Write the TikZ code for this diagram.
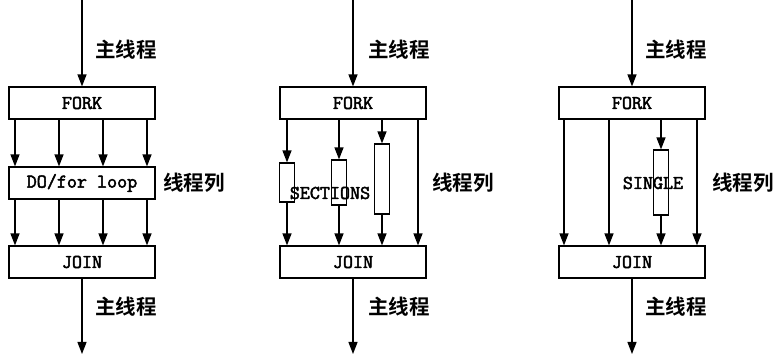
\documentclass[tikz,border=0pt]{standalone}
\usepackage{fontspec}
\newfontfamily\cjk{Noto Sans CJK SC Bold}
\newfontfamily\monob{Latin Modern Mono}[FakeBold=2.5]
\usetikzlibrary{arrows.meta}
\begin{document}
\begin{tikzpicture}[x=1pt,y=-1pt,
  box/.style={draw,line width=1.2pt,inner sep=0pt,font=\monob\fontsize{19.5}{19.5}\selectfont},
  wide/.style={box,minimum width=146,minimum height=32},
  thin/.style={box,minimum width=15},
  arr/.style={line width=1.3pt,-{Triangle[length=12pt,width=9pt]}},
  zh/.style={font=\cjk\fontsize{20.5}{20.5}\selectfont,anchor=west,inner sep=0pt},
  lbl/.style={font=\monob\fontsize{19.5}{19.5}\selectfont,inner sep=0pt}]
\useasboundingbox (0,0) rectangle (777,355);
% ---------- panel 1 ----------
\node[wide] (fork1) at (82,103) {FORK};
\node[wide] (do1) at (82,183) {DO/for loop};
\node[wide] (join1) at (82,262) {JOIN};
\coordinate (top1) at (82,0);
\coordinate (bot1) at (82,354);
\draw[arr] (top1) -- (fork1.north);
\draw[arr] (join1.south) -- (bot1);
\foreach \x in {15,59,103,147}{
  \coordinate (p) at (\x,0);
  \draw[arr] (fork1.south -| p) -- (do1.north -| p);
  \draw[arr] (do1.south -| p) -- (join1.north -| p);
}
\node[zh] (m1a) at (95,50) {主线程};
\node[zh] (m1b) at (95,307) {主线程};
\node[zh] (t1) at (163,183) {线程列};
% ---------- panel 2 ----------
\node[wide] (fork2) at (353,103) {FORK};
\node[wide] (join2) at (353,262) {JOIN};
\coordinate (top2) at (353,0);
\coordinate (bot2) at (353,354);
\draw[arr] (top2) -- (fork2.north);
\draw[arr] (join2.south) -- (bot2);
\node[thin,minimum height=39] (s1) at (287,182.5) {};
\node[thin,minimum height=45] (s2) at (339,182.5) {};
\node[thin,minimum height=70] (s3) at (382,179) {};
\foreach \s in {s1,s2,s3}{
  \draw[arr] (fork2.south -| \s) -- (\s.north);
  \draw[arr] (\s.south) -- (join2.north -| \s);
}
\coordinate (p4) at (418,0);
\draw[arr] (fork2.south -| p4) -- (join2.north -| p4);
\node[lbl] (sec) at (330,193) {SECTIONS};
\node[zh] (m2a) at (368,50) {主线程};
\node[zh] (m2b) at (368,307) {主线程};
\node[zh] (t2) at (432,183) {线程列};
% ---------- panel 3 ----------
\node[wide] (fork3) at (632,103) {FORK};
\node[wide] (join3) at (632,262) {JOIN};
\coordinate (top3) at (632,0);
\coordinate (bot3) at (632,354);
\draw[arr] (top3) -- (fork3.north);
\draw[arr] (join3.south) -- (bot3);
\node[thin,minimum height=65] (sg) at (661,182.5) {};
\draw[arr] (fork3.south -| sg) -- (sg.north);
\draw[arr] (sg.south) -- (join3.north -| sg);
\foreach \x in {564,609,697}{
  \coordinate (q) at (\x,0);
  \draw[arr] (fork3.south -| q) -- (join3.north -| q);
}
\node[lbl] (sgl) at (653,183) {SINGLE};
\node[zh] (m3a) at (645,50) {主线程};
\node[zh] (m3b) at (645,307) {主线程};
\node[zh] (t3) at (712,183) {线程列};
\end{tikzpicture}
\end{document}
